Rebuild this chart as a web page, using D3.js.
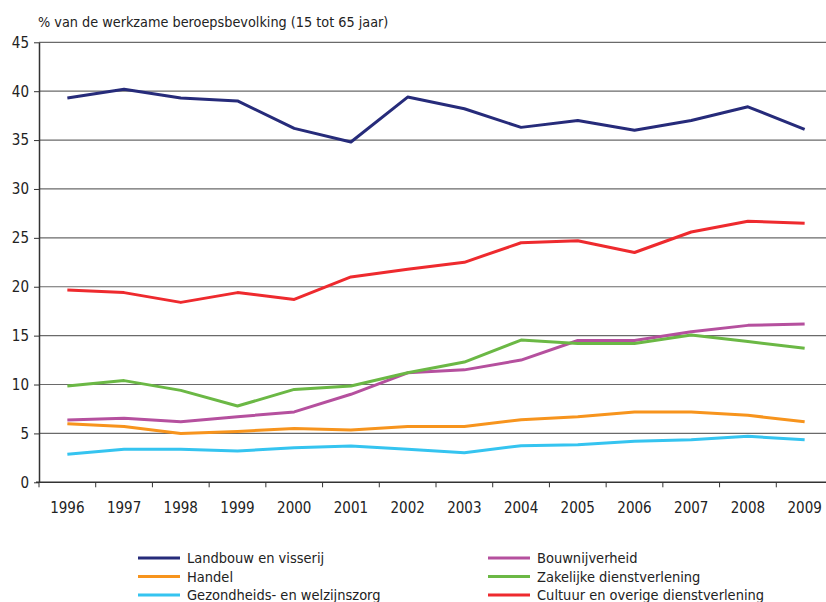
<!DOCTYPE html>
<meta charset="utf-8" />
<style>
  body { margin: 0; background: #fff; }
  svg text {
    font-family: 'Liberation Sans Narrow', 'DejaVu Sans Condensed', 'Roboto', sans-serif;
    fill: #222;
  }
  .grid line { stroke: #6a6a6a; stroke-width: 1.2px; }
  .line { fill: none; stroke-width: 3px; stroke-linejoin: round; }
</style>
<svg width="826" height="602"></svg>
<script src="https://d3js.org/d3.v7.min.js"></script>
<script>
  var years = ['1996', '1997', '1998', '1999', '2000', '2001', '2002',
    '2003', '2004', '2005', '2006', '2007', '2008', '2009'];
  var yTicks = [0, 5, 10, 15, 20, 25, 30, 35, 40, 45];

  var landbouw = [39.3, 40.2, 39.3, 39.0, 36.2, 34.8, 39.4, 38.2, 36.3, 37.0, 36.0, 37.0, 38.4, 36.1];
  var handel = [6.0, 5.7, 5.0, 5.2, 5.5, 5.35, 5.7, 5.7, 6.4, 6.7, 7.2, 7.2, 6.85, 6.2];
  var gezondheid = [2.86, 3.37, 3.37, 3.2, 3.54, 3.7, 3.37, 3.03, 3.74, 3.85, 4.2, 4.36, 4.7, 4.36];
  var bouw = [6.37, 6.54, 6.2, 6.7, 7.2, 9.0, 11.2, 11.5, 12.5, 14.5, 14.5, 15.4, 16.05, 16.2];
  var zakelijk = [9.85, 10.4, 9.4, 7.8, 9.5, 9.85, 11.2, 12.3, 14.55, 14.2, 14.2, 15.06, 14.4, 13.7];
  var cultuur = [19.66, 19.4, 18.4, 19.4, 18.7, 21.0, 21.8, 22.5, 24.5, 24.7, 23.5, 25.6, 26.7, 26.5];

  var series = [
    { name: 'Landbouw en visserij', color: '#262b7a', values: landbouw },
    { name: 'Handel', color: '#f7941d', values: handel },
    { name: 'Gezondheids- en welzijnszorg', color: '#35c4f0', values: gezondheid },
    { name: 'Bouwnijverheid', color: '#b5509e', values: bouw },
    { name: 'Zakelijke dienstverlening', color: '#6bb845', values: zakelijk },
    { name: 'Cultuur en overige dienstverlening', color: '#ee2a2e', values: cultuur }
  ];

  var svg = d3.select('svg');
  var plotLeft = 39, plotRight = 833, plotTop = 42.3, plotBottom = 482.3;

  var x = d3.scaleBand().domain(years).range([plotLeft, plotRight]);
  var y = d3.scaleLinear().domain([0, 45]).range([plotBottom, plotTop]);

  // gridlines
  svg.append('g')
    .attr('class', 'grid')
    .selectAll('line')
    .data(yTicks.slice(1))
    .enter()
    .append('line')
    .attr('x1', plotLeft)
    .attr('x2', 826)
    .attr('y1', (d) => y(d))
    .attr('y2', (d) => y(d));

  // y axis
  var yAxis = svg.append('g')
    .attr('transform', 'translate(' + plotLeft + ',0)')
    .call(d3.axisLeft(y).tickValues(yTicks).tickSize(5).tickSizeOuter(0).tickPadding(5));
  yAxis.select('.domain').attr('stroke', '#333').attr('stroke-width', 1.5);
  yAxis.selectAll('.tick line').attr('stroke', '#333');
  yAxis.selectAll('text').style('font-size', '15px');

  // x axis
  var xAxis = svg.append('g')
    .attr('transform', 'translate(0,' + plotBottom + ')')
    .call(d3.axisBottom(x).tickSize(0).tickSizeOuter(0).tickPadding(20));
  xAxis.select('.domain').attr('stroke', '#333').attr('stroke-width', 1.5)
    .attr('d', 'M' + (plotLeft - 3) + ',0H826');
  xAxis.selectAll('text').style('font-size', '15px');
  svg.append('g')
    .selectAll('line')
    .data(years)
    .enter()
    .append('line')
    .attr('x1', (d) => x(d))
    .attr('x2', (d) => x(d))
    .attr('y1', plotBottom)
    .attr('y2', plotBottom + 5)
    .attr('stroke', '#333');

  svg.append('text')
    .attr('x', 38)
    .attr('y', 27)
    .style('font-size', '14.3px')
    .text('% van de werkzame beroepsbevolking (15 tot 65 jaar)');

  var line = d3.line()
    .x((d, i) => x(years[i]) + x.bandwidth() / 2)
    .y((d) => y(d));

  svg.append('g')
    .selectAll('path')
    .data(series)
    .enter()
    .append('path')
    .attr('class', 'line')
    .attr('stroke', (d) => d.color)
    .attr('d', (d) => line(d.values));

  // legend
  var legend = svg.append('g')
    .selectAll('g')
    .data(series)
    .enter()
    .append('g')
    .attr('transform', (d, i) =>
      'translate(' + (i < 3 ? 138 : 488) + ',' + (558 + (i % 3) * 18.5) + ')');
  legend.append('line')
    .attr('x1', 0)
    .attr('x2', 42)
    .attr('stroke', (d) => d.color)
    .attr('stroke-width', 3);
  legend.append('text')
    .attr('x', 49)
    .attr('dy', '0.35em')
    .style('font-size', '14.5px')
    .text((d) => d.name);
</script>
